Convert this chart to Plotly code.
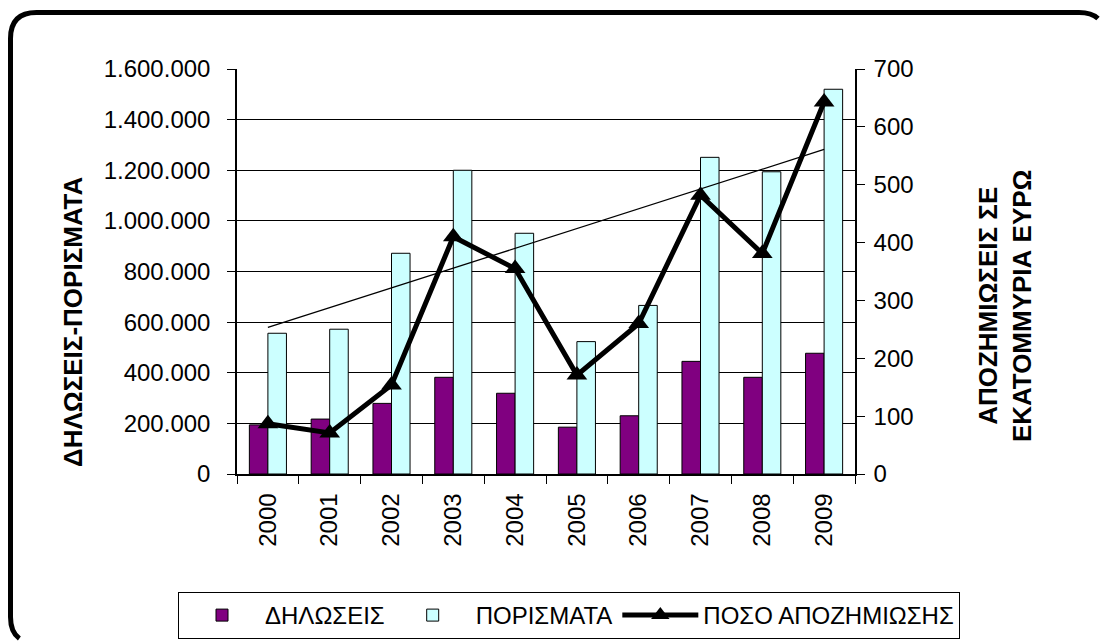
import numpy as np
import plotly.graph_objects as go

years = ["2000", "2001", "2002", "2003", "2004", "2005", "2006", "2007", "2008", "2009"]
dilosis = [194000, 217000, 279000, 382000, 319000, 185000, 230000, 445000, 382000, 477000]
porismata = [556000, 572000, 872000, 1200000, 951000, 523000, 666000, 1251000, 1194000, 1520000]
poso = [87, 71, 154, 410, 355, 171, 260, 482, 381, 643]

name_d = "ΔΗΛΩΣΕΙΣ"
name_p = "ΠΟΡΙΣΜΑΤΑ"
name_l = "ΠΟΣΟ ΑΠΟΖΗΜΙΩΣΗΣ"
title_left = "ΔΗΛΩΣΕΙΣ-ΠΟΡΙΣΜΑΤΑ"
title_right = "ΑΠΟΖΗΜΙΩΣΕΙΣ ΣΕ<br>ΕΚΑΤΟΜΜΥΡΙΑ ΕΥΡΩ"

# linear trend of ΠΟΡΙΣΜΑΤΑ
idx = np.arange(len(years))
k, b = np.polyfit(idx, porismata, 1)
trend = list(k * idx + b)

W, H = 1100, 641
L, R, T, B = 237, 855, 69, 474

def px(xp):
    return (xp - L) / (R - L)

def py(yp):
    return (B - yp) / (B - T)

FONT = "Liberation Sans, Arial, sans-serif"

fig = go.Figure()
fig.add_trace(go.Bar(x=years, y=dilosis, name=name_d,
                     marker=dict(color="#800080", line=dict(color="black", width=1))))
fig.add_trace(go.Bar(x=years, y=porismata, name=name_p,
                     marker=dict(color="#CCFFFF", line=dict(color="black", width=1))))
fig.add_trace(go.Scatter(x=years, y=trend, mode="lines", showlegend=False,
                         line=dict(color="black", width=1.3), hoverinfo="skip"))
fig.add_trace(go.Scatter(x=years, y=poso, name=name_l, yaxis="y2", mode="lines+markers",
                         line=dict(color="black", width=5),
                         marker=dict(symbol="triangle-up", size=18, color="black")))

# rounded outer frame (partly outside the page, drawn as an open path kept inside)
def sub_quad(p0, c, p2, t):
    ctrl = (p0[0] + t * (c[0] - p0[0]), p0[1] + t * (c[1] - p0[1]))
    end = ((1 - t) ** 2 * p0[0] + 2 * t * (1 - t) * c[0] + t * t * p2[0],
           (1 - t) ** 2 * p0[1] + 2 * t * (1 - t) * c[1] + t * t * p2[1])
    return ctrl, end

def P(pt):
    return f"{px(pt[0]):.5f},{py(pt[1]):.5f}"

fx0, fy0, fx1, fy1, fr = 10.5, 12.5, 1105, 643, 26
bl_ctrl, bl_end = sub_quad((fx0, fy1 - fr), (fx0, fy1), (fx0 + fr, fy1), 0.584)
tr_ctrl, tr_end = sub_quad((fx1 - fr, fy0), (fx1, fy0), (fx1, fy0 + fr), 0.481)
path = (f"M {P(bl_end)} Q {P(bl_ctrl)} {P((fx0, fy1 - fr))} "
        f"L {P((fx0, fy0 + fr))} Q {P((fx0, fy0))} {P((fx0 + fr, fy0))} "
        f"L {P((fx1 - fr, fy0))} Q {P(tr_ctrl)} {P(tr_end)}")

fig.update_layout(
    width=W, height=H,
    margin=dict(l=L, r=W - R, t=T, b=H - B, autoexpand=False),
    paper_bgcolor="white", plot_bgcolor="white",
    font=dict(family=FONT, size=24, color="black"),
    separators=",.",
    barmode="group", bargap=0.4, bargroupgap=0,
    xaxis=dict(type="category", range=[-0.5, len(years) - 0.5], tickangle=-90,
               ticks="outside", tickson="boundaries",
               ticklen=8, tickcolor="black", showline=True, linecolor="black", linewidth=1.5,
               showgrid=False, automargin=False, tickfont=dict(size=24), ticklabelstandoff=8),
    yaxis=dict(range=[0, 1600000], dtick=200000, tickformat=",d", ticks="outside",
               ticklen=8, tickcolor="black", showline=True, linecolor="black", linewidth=1.5,
               showgrid=True, gridcolor="black", gridwidth=1, zeroline=False,
               automargin=False, tickfont=dict(size=24), ticklabelstandoff=12),
    yaxis2=dict(range=[0, 700], dtick=100, overlaying="y", side="right", ticks="outside",
                ticklen=8, tickcolor="black", showline=True, linecolor="black", linewidth=1.5,
                showgrid=False, zeroline=False, automargin=False, tickfont=dict(size=24),
                ticklabelstandoff=4),
    legend=dict(orientation="h", x=px(178), y=py(592), xanchor="left", yanchor="top",
                bordercolor="black", borderwidth=1, bgcolor="white",
                font=dict(family=FONT, size=24), itemwidth=76),
    shapes=[dict(type="path", xref="paper", yref="paper", path=path,
                 line=dict(color="black", width=5), fillcolor="rgba(0,0,0,0)", layer="above")],
    annotations=[
        dict(text=f"<b>{title_left}</b>", xref="paper", yref="paper", x=px(73), y=py(322),
             showarrow=False, textangle=-90, font=dict(size=26, family=FONT),
             xanchor="center", yanchor="middle"),
        dict(text=f"<b>{title_right}</b>", xref="paper", yref="paper", x=px(1005), y=py(306),
             showarrow=False, textangle=-90, font=dict(size=26, family=FONT),
             xanchor="center", yanchor="middle"),
    ],
)

fig.write_html("out.html", config={"displayModeBar": False},
               post_script="document.body.style.margin='0';")
